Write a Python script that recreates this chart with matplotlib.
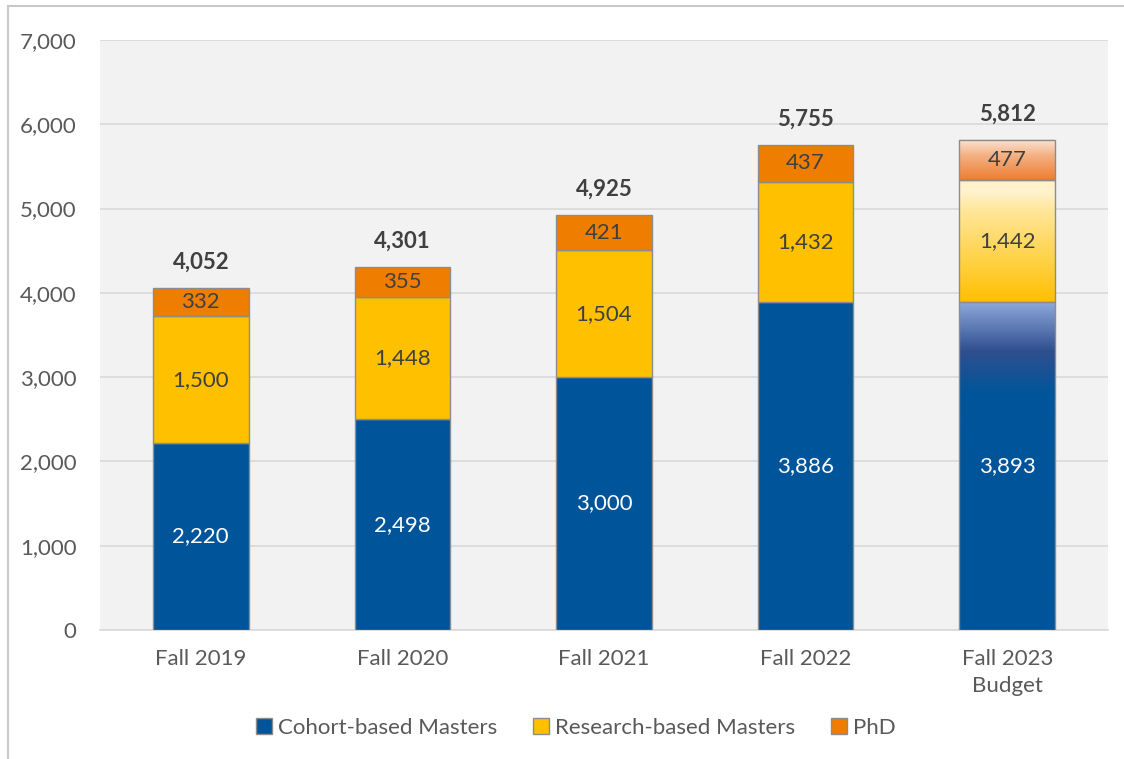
import matplotlib.pyplot as plt
import numpy as np
from matplotlib.colors import LinearSegmentedColormap
from matplotlib.lines import Line2D
from matplotlib.patches import Rectangle

plt.rcParams['font.family'] = ['Lato', 'DejaVu Sans']

categories = ['Fall 2019', 'Fall 2020', 'Fall 2021', 'Fall 2022', 'Fall 2023\nBudget']
cohort = [2220, 2498, 3000, 3886, 3893]
research = [1500, 1448, 1504, 1432, 1442]
phd = [332, 355, 421, 437, 477]
totals = [4052, 4301, 4925, 5755, 5812]

blue = '#00559A'
yellow = '#FFC000'
orange = '#EE7D00'
edge = '#8C8C8C'

fig = plt.figure(figsize=(11.24, 7.59), dpi=100)
# chart frame: only left and top edges are inside the picture
fig.lines.append(Line2D([7.5 / 1124, 7.5 / 1124], [0, 1 - 6 / 759], transform=fig.transFigure,
                        color='#C8C8C8', lw=1.5))
fig.lines.append(Line2D([7.5 / 1124, 1], [1 - 6 / 759, 1 - 6 / 759], transform=fig.transFigure,
                        color='#C8C8C8', lw=1.5))

ax = fig.add_axes([100 / 1124, 1 - 630 / 759, 1008 / 1124, 590 / 759])
ax.set_facecolor('#F2F2F2')

x = np.arange(len(categories))
w = 0.475
bottoms2 = np.array(cohort)
bottoms3 = bottoms2 + np.array(research)

ax.bar(x[:-1], cohort[:-1], w, color=blue, edgecolor=edge, lw=1, zorder=3)
ax.bar(x[:-1], research[:-1], w, bottom=bottoms2[:-1], color=yellow, edgecolor=edge, lw=1, zorder=3)
ax.bar(x[:-1], phd[:-1], w, bottom=bottoms3[:-1], color=orange, edgecolor=edge, lw=1, zorder=3)

# gradient segments for the budget bar
grads = [
    (0, cohort[-1], [(0, blue), (0.72, blue), (0.85, '#2F4F8F'), (1, '#8FAADC')]),
    (bottoms2[-1], research[-1], [(0, yellow), (0.75, '#FFE699'), (0.9, '#FFF2CC'), (1, '#FFF2CC')]),
    (bottoms3[-1], phd[-1], [(0, '#ED7D31'), (0.6, '#F4B183'), (1, '#FBE5D6')]),
]
xi = x[-1]
for b, h, stops in grads:
    cmap = LinearSegmentedColormap.from_list('g', stops)
    grad = np.linspace(0, 1, 256).reshape(-1, 1)
    ax.imshow(grad, cmap=cmap, origin='lower', aspect='auto',
              extent=(xi - w / 2, xi + w / 2, b, b + h), zorder=3)
    ax.add_patch(Rectangle((xi - w / 2, b), w, h, fill=False, edgecolor=edge, lw=1, zorder=4))

fs = 16
for i in range(len(x)):
    ax.text(x[i], cohort[i] / 2, f'{cohort[i]:,}', ha='center', va='center',
            color='white', fontsize=fs, zorder=5)
    ax.text(x[i], bottoms2[i] + research[i] / 2, f'{research[i]:,}', ha='center', va='center',
            color='#404040', fontsize=fs, zorder=5)
    ax.text(x[i], bottoms3[i] + phd[i] / 2, f'{phd[i]:,}', ha='center', va='center',
            color='#404040', fontsize=fs, zorder=5)
    ax.text(x[i], totals[i] + 310, f'{totals[i]:,}', ha='center', va='center',
            color='#404040', fontsize=fs, fontweight='bold', zorder=5)

ax.set_xlim(-0.5, 4.5)
ax.set_ylim(0, 7000)
ax.set_yticks(range(0, 7001, 1000))
ax.set_yticklabels([f'{v:,}' for v in range(0, 7001, 1000)])
ax.set_xticks(x)
ax.set_xticklabels(categories, linespacing=1.4)
ax.tick_params(axis='both', length=0, labelsize=fs, labelcolor='#595959')
ax.tick_params(axis='y', pad=17)
ax.tick_params(axis='x', pad=14)
ax.grid(axis='y', color='#D9D9D9', lw=1.2, zorder=0)
ax.set_axisbelow(True)
for s in ['top', 'right', 'left']:
    ax.spines[s].set_visible(False)
ax.spines['bottom'].set_color('#D9D9D9')
ax.spines['bottom'].set_linewidth(1.2)

handles = [Rectangle((0, 0), 1, 1, facecolor=c, edgecolor=edge) for c in (blue, yellow, orange)]
fig.legend(handles, ['Cohort-based Masters', 'Research-based Masters', 'PhD'],
           loc='center', bbox_to_anchor=(576 / 1124, 1 - 728 / 759), ncol=3, frameon=False,
           fontsize=fs, labelcolor='#595959', handlelength=0.7, handleheight=0.7,
           handletextpad=0.3, columnspacing=1.6)

fig.savefig('out.png', dpi=100)
